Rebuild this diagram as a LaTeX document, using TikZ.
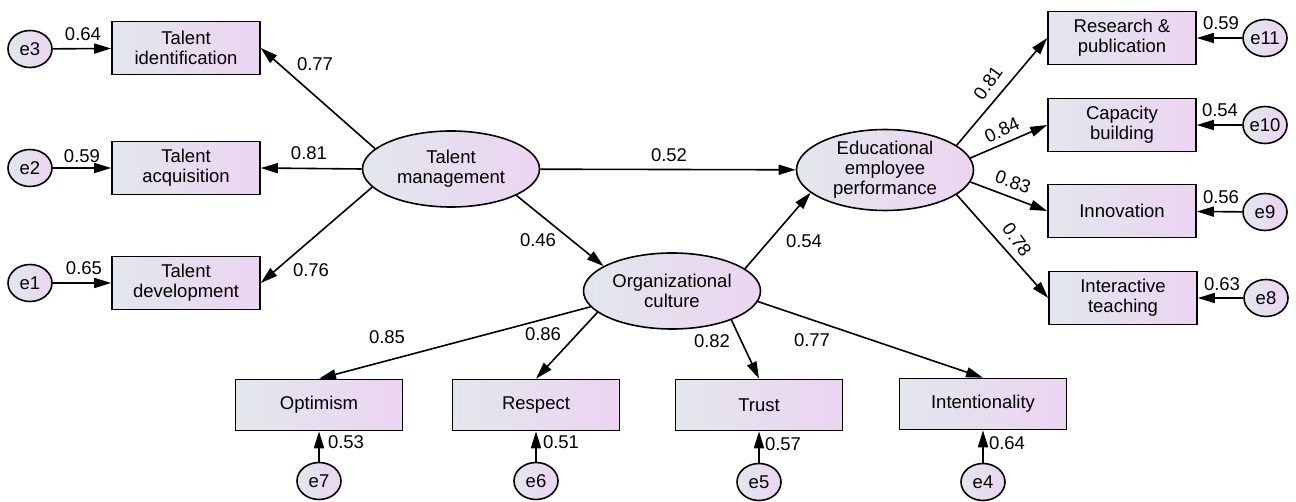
\documentclass[tikz,border=0pt]{standalone}
\usepackage{fontspec}
\setmainfont{Liberation Sans}
\usetikzlibrary{positioning, arrows.meta, shapes.geometric}

\definecolor{shadeleft}{RGB}{226,231,236}
\definecolor{shaderight}{RGB}{236,212,242}

\begin{document}
\begin{tikzpicture}[x=1pt, y=-1pt, line width=1.6pt,
    every node/.style={font=\fontsize{18.5}{20}\selectfont},
    obsbox/.style={draw, rectangle, minimum width=148pt, minimum height=53pt, align=center, left color=shadeleft, right color=shaderight},
    latent/.style={draw, ellipse, minimum width=177pt, minimum height=76pt, inner sep=0pt, align=center, left color=shadeleft, right color=shaderight},
    errvar/.style={draw, ellipse, minimum width=44pt, minimum height=37pt, inner sep=0pt, left color=shadeleft, right color=shaderight},
    arr/.style={line width=1.6pt, -{Triangle[length=17pt,width=10pt]}},
    coef/.style={inner sep=1pt}]
    \useasboundingbox (0,0) rectangle (1296,502);

    % latent variables
    \node[latent] (talentmgmt) at (451,169) {Talent\\management};
    \node[latent] (orgculture) at (672,291) {Organizational\\culture};
    \node[latent] (eduperf) at (885,170) {Educational\\employee\\performance};

    % talent management indicators
    \node[obsbox] (identification) at (186,48) {Talent\\identification};
    \node[obsbox] (acquisition) at (186,168) {Talent\\acquisition};
    \node[obsbox] (development) at (186,283) {Talent\\development};
    \node[errvar] (e3) at (30,49) {e3};
    \node[errvar] (e2) at (30,168) {e2};
    \node[errvar] (e1) at (30,283) {e1};

    % performance indicators
    \node[obsbox] (research) at (1122,38) {Research \&\\publication};
    \node[obsbox] (capacity) at (1122,125) {Capacity\\building};
    \node[obsbox] (innovation) at (1122,211) {Innovation};
    \node[obsbox] (interactive) at (1123,298) {Interactive\\teaching};
    \node[errvar] (e11) at (1265,38) {e11};
    \node[errvar] (e10) at (1265,125) {e10};
    \node[errvar] (e9) at (1265,212) {e9};
    \node[errvar] (e8) at (1266,298) {e8};

    % culture indicators
    \node[obsbox, minimum width=167pt, minimum height=51pt] (optimism) at (319,405) {Optimism};
    \node[obsbox, minimum width=167pt, minimum height=51pt] (respect) at (536,405) {Respect};
    \node[obsbox, minimum width=167pt, minimum height=51pt] (trust) at (759,405) {Trust};
    \node[obsbox, minimum width=167pt, minimum height=51pt] (intention) at (983,404) {Intentionality};
    \node[errvar] (e7) at (319,481) {e7};
    \node[errvar] (e6) at (536,481) {e6};
    \node[errvar] (e5) at (759,482) {e5};
    \node[errvar] (e4) at (983,482) {e4};

    % structural paths
    \draw[arr] (talentmgmt) -- (eduperf);
    \draw[arr] (talentmgmt.-22) -- (orgculture.160);
    \draw[arr] (orgculture.17) -- (eduperf.197);

    % loadings
    \draw[arr] (talentmgmt.165) -- (identification.east);
    \draw[arr] (talentmgmt.west) -- (acquisition.east);
    \draw[arr] (talentmgmt.193) -- (development.east);
    \draw[arr] (eduperf.19) -- (research.west);
    \draw[arr] (eduperf.8) -- (capacity.west);
    \draw[arr] (eduperf.-8) -- (innovation.west);
    \draw[arr] (eduperf.-19) -- (interactive.west);
    \draw[arr] (orgculture.191) -- (optimism.north);
    \draw[arr] (orgculture.196) -- (respect.north);
    \draw[arr] (orgculture.-26) -- (trust.north);
    \draw[arr] (orgculture.-7) -- (intention.north);

    % error terms
    \draw[arr] (e3) -- (identification);
    \draw[arr] (e2) -- (acquisition);
    \draw[arr] (e1) -- (development);
    \draw[arr] (e11) -- (research);
    \draw[arr] (e10) -- (capacity);
    \draw[arr] (e9) -- (innovation);
    \draw[arr] (e8) -- (interactive);
    \draw[arr] (e7) -- (optimism);
    \draw[arr] (e6) -- (respect);
    \draw[arr] (e5) -- (trust);
    \draw[arr] (e4) -- (intention);

    % coefficients
    \node[coef] (c52) at (669,155) {0.52};
    \node[coef] (c46) at (538,240) {0.46};
    \node[coef] (c54) at (804,241) {0.54};
    \node[coef] (c77a) at (315,64) {0.77};
    \node[coef] (c81a) at (309,153) {0.81};
    \node[coef] (c76) at (311,270) {0.76};
    \node[coef] (c64a) at (83,34) {0.64};
    \node[coef] (c59a) at (82,156) {0.59};
    \node[coef] (c65) at (84,268) {0.65};
    \node[coef, rotate=55] (c81b) at (988,83) {0.81};
    \node[coef, rotate=25] (c84) at (1002,130) {0.84};
    \node[coef, rotate=-20] (c83) at (1013,182) {0.83};
    \node[coef, rotate=-55] (c78) at (1017,240) {0.78};
    \node[coef] (c59b) at (1221,23) {0.59};
    \node[coef] (c54b) at (1220,110) {0.54};
    \node[coef] (c56) at (1221,197) {0.56};
    \node[coef] (c63) at (1222,284) {0.63};
    \node[coef] (c85) at (387,337) {0.85};
    \node[coef] (c86) at (543,334) {0.86};
    \node[coef] (c82) at (712,341) {0.82};
    \node[coef] (c77b) at (812,340) {0.77};
    \node[coef] (c53) at (346,442) {0.53};
    \node[coef] (c51) at (561,442) {0.51};
    \node[coef] (c57) at (783,444) {0.57};
    \node[coef] (c64b) at (1007,443) {0.64};
\end{tikzpicture}
\end{document}
